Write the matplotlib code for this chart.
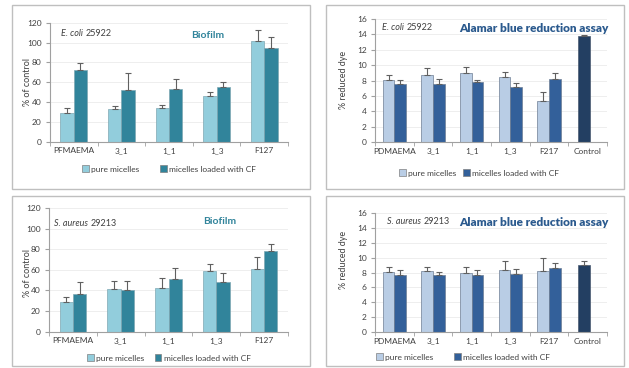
import numpy as np
import matplotlib
matplotlib.use("Agg")
import matplotlib.pyplot as plt
from matplotlib.patches import Rectangle, Patch

plt.rcParams['font.family'] = ['Lato', 'DejaVu Sans']

W, H = 629, 368

# data
bio_cats = ["PFMAEMA", "3_1", "1_1", "1_3", "F127"]
ab_cats = ["PDMAEMA", "3_1", "1_1", "1_3", "F217", "Control"]

ecoli_bio_pure = [29, 33, 34, 46, 102]
ecoli_bio_pure_err = [5, 3, 3, 4, 11]
ecoli_bio_cf = [72, 52, 53, 55, 94]
ecoli_bio_cf_err = [7, 17, 10, 5, 12]

saur_bio_pure = [29, 41, 42, 59, 61]
saur_bio_pure_err = [5, 8, 10, 7, 11]
saur_bio_cf = [37, 40, 51, 48, 78]
saur_bio_cf_err = [11, 9, 11, 9, 7]

ecoli_ab_pure = [8.1, 8.7, 9.0, 8.5, 5.3]
ecoli_ab_pure_err = [0.6, 0.9, 0.7, 0.6, 1.2]
ecoli_ab_cf = [7.5, 7.6, 7.8, 7.2, 8.2]
ecoli_ab_cf_err = [0.6, 0.6, 0.3, 0.5, 0.8]
ecoli_ctrl = 13.8
ecoli_ctrl_err = 0.15

saur_ab_pure = [8.1, 8.2, 7.9, 8.4, 8.2]
saur_ab_pure_err = [0.7, 0.6, 0.8, 1.2, 1.8]
saur_ab_cf = [7.6, 7.7, 7.6, 7.8, 8.6]
saur_ab_cf_err = [0.8, 0.4, 0.7, 0.7, 0.7]
saur_ctrl = 9.0
saur_ctrl_err = 0.6

C_BIO_PURE = '#92CDDC'
C_BIO_CF = '#31849B'
C_AB_PURE = '#B9CDE5'
C_AB_CF = '#33609A'
C_AB_CTRL = '#233F62'
TXT = '#404040'
EKW = dict(elinewidth=0.8, ecolor='#606060', capthick=0.8)


def fx(x):
    return x / W


def fy(y):
    return 1 - y / H


def make_ax(x0, x1, y0, y1):
    return fig.add_axes([fx(x0), fy(y1), (x1 - x0) / W, (y1 - y0) / H])


def style_ax(ax, n, ymax, ystep, labels):
    ax.set_xlim(0, n)
    ax.set_ylim(0, ymax)
    ax.set_yticks(np.arange(0, ymax + ystep / 2, ystep))
    ax.set_xticks(np.arange(n) + 0.5)
    ax.set_xticklabels(labels)
    ax.set_xticks(np.arange(n + 1), minor=True)
    ax.tick_params(axis='x', which='major', length=0, labelsize=6, colors=TXT, pad=4)
    ax.tick_params(axis='x', which='minor', length=3, color='#A0A0A0', direction='out')
    ax.tick_params(axis='y', length=3, color='#A0A0A0', labelsize=6, labelcolor=TXT, pad=3)
    for s in ['top', 'right']:
        ax.spines[s].set_visible(False)
    for s in ['left', 'bottom']:
        ax.spines[s].set_color('#A0A0A0')
        ax.spines[s].set_linewidth(0.8)
    ax.yaxis.grid(True, color='#EBEBEB', lw=0.6)
    ax.set_axisbelow(True)


def draw_bars(ax, pure, pure_err, cf, cf_err, cp, ccf, w, edge):
    x = np.arange(len(pure)) + 0.5
    ax.bar(x - w / 2, pure, w, color=cp, edgecolor=edge, lw=0.5,
           yerr=[np.zeros(len(pure)), pure_err], capsize=2.5, error_kw=EKW)
    ax.bar(x + w / 2, cf, w, color=ccf, edgecolor=edge, lw=0.5,
           yerr=[np.zeros(len(cf)), cf_err], capsize=2.5, error_kw=EKW)


def strain_label(x, y, species, number):
    # italic species name followed by the strain number in roman
    t = fig.text(fx(x), fy(y), species, ha='left', va='center',
                 fontsize=6.5, color=TXT, style='italic')
    plt.annotate(number, xy=(1, 0.5), xycoords=t, xytext=(2, 0),
                 textcoords='offset points', ha='left', va='center',
                 fontsize=6.5, color=TXT, annotation_clip=False)


fig = plt.figure(figsize=(W / 100, H / 100), dpi=100)

# panel boxes
for (x0, y0, x1, y1) in [(12, 5, 310, 189), (326, 5, 624, 189),
                         (12, 196, 310, 366), (326, 196, 624, 366)]:
    fig.add_artist(Rectangle((fx(x0), fy(y1)), (x1 - x0) / W, (y1 - y0) / H,
                             transform=fig.transFigure, fill=False,
                             edgecolor='#BFBFBF', lw=1.0))

# E. coli biofilm
ax1 = make_ax(50, 288, 22.7, 141.7)
style_ax(ax1, 5, 120, 20, bio_cats)
draw_bars(ax1, ecoli_bio_pure, ecoli_bio_pure_err, ecoli_bio_cf, ecoli_bio_cf_err,
          C_BIO_PURE, C_BIO_CF, 0.28, '#7FA8B3')

# S. aureus biofilm
ax3 = make_ax(49, 288, 208, 331.7)
style_ax(ax3, 5, 120, 20, bio_cats)
draw_bars(ax3, saur_bio_pure, saur_bio_pure_err, saur_bio_cf, saur_bio_cf_err,
          C_BIO_PURE, C_BIO_CF, 0.28, '#7FA8B3')

# Alamar blue panels
ax2 = make_ax(375, 607, 19, 142)
style_ax(ax2, 6, 16, 2, ab_cats)
draw_bars(ax2, ecoli_ab_pure, ecoli_ab_pure_err, ecoli_ab_cf, ecoli_ab_cf_err,
          C_AB_PURE, C_AB_CF, 0.3, '#6F7F95')
ax2.bar([5.4], [ecoli_ctrl], 0.3, color=C_AB_CTRL, edgecolor='#4A5A70', lw=0.5,
        yerr=[[0], [ecoli_ctrl_err]], capsize=2.5, error_kw=EKW)

ax4 = make_ax(375, 607, 213, 332)
style_ax(ax4, 6, 16, 2, ab_cats)
draw_bars(ax4, saur_ab_pure, saur_ab_pure_err, saur_ab_cf, saur_ab_cf_err,
          C_AB_PURE, C_AB_CF, 0.3, '#6F7F95')
ax4.bar([5.4], [saur_ctrl], 0.3, color=C_AB_CTRL, edgecolor='#4A5A70', lw=0.5,
        yerr=[[0], [saur_ctrl_err]], capsize=2.5, error_kw=EKW)

# y labels
fig.text(fx(27), fy(82), '% of control', rotation=90, ha='center', va='center',
         fontsize=6.5, color=TXT)
fig.text(fx(27), fy(273), '% of control', rotation=90, ha='center', va='center',
         fontsize=6.5, color=TXT)
fig.text(fx(343), fy(80), '% reduced dye', rotation=90, ha='center', va='center',
         fontsize=6.5, color=TXT)
fig.text(fx(343), fy(260), '% reduced dye', rotation=90, ha='center', va='center',
         fontsize=6.5, color=TXT)

# strain labels
strain_label(61, 33, 'E. coli', '25922')
strain_label(382, 28, 'E. coli', '25922')
strain_label(54, 223, 'S. aureus', '29213')
strain_label(387, 222, 'S. aureus', '29213')

# titles
fig.text(fx(208), fy(36), 'Biofilm', ha='center', va='center', fontsize=7.5,
         fontweight='bold', color='#31849B')
fig.text(fx(220), fy(222), 'Biofilm', ha='center', va='center', fontsize=7.5,
         fontweight='bold', color='#31849B')
fig.text(fx(534), fy(29), 'Alamar blue reduction assay', ha='center', va='center',
         fontsize=8.5, fontweight='heavy', color='#2B5A8E')
fig.text(fx(534), fy(222), 'Alamar blue reduction assay', ha='center', va='center',
         fontsize=8.5, fontweight='heavy', color='#2B5A8E')


# legends
def add_legend(cx, cy, cp, ccf, gap):
    handles = [Patch(facecolor=cp, edgecolor='#808080', lw=0.5),
               Patch(facecolor=ccf, edgecolor='#808080', lw=0.5)]
    fig.legend(handles, ['pure micelles', 'micelles loaded with CF'],
               loc='center', bbox_to_anchor=(fx(cx), fy(cy)), ncol=2,
               frameon=False, fontsize=6, handlelength=0.8, handleheight=0.8,
               handletextpad=0.3, columnspacing=gap, labelcolor=TXT)


add_legend(169, 169, C_BIO_PURE, C_BIO_CF, 2.5)
add_legend(169, 358, C_BIO_PURE, C_BIO_CF, 1.2)
add_legend(479, 173, C_AB_PURE, C_AB_CF, 0.8)
add_legend(463, 357, C_AB_PURE, C_AB_CF, 2.5)

fig.savefig('out.png', dpi=100)
